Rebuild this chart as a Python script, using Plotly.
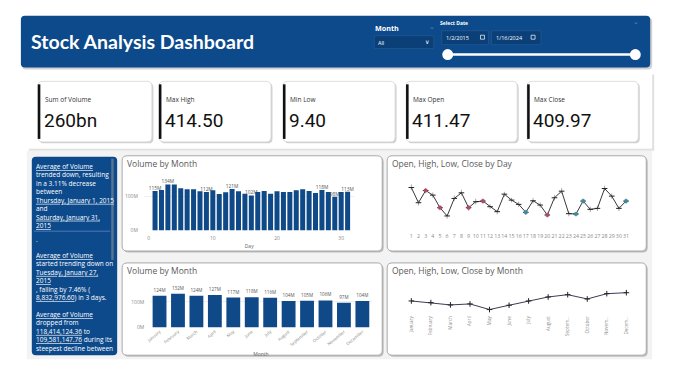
import plotly.graph_objects as go

# ---------------- data ----------------
days = list(range(1, 32))
day_volume_m = [115, 118, 134, 134, 123, 120, 120, 114, 112, 117, 106, 111, 121, 114, 107, 102,
                112, 115, 107, 114, 112, 112, 117, 120, 115, 109, 118, 112, 98, 112, 113]
labeled_days = [1, 3, 9, 13, 16, 27, 29, 31]

months = ["January", "February", "March", "April", "May", "June", "July", "August",
          "September", "October", "November", "December"]
month_tick_short = ["January", "February", "March", "April", "May", "June", "July", "August",
                    "Septem...", "October", "Novem...", "Decem..."]
month_volume_m = [124, 132, 124, 127, 117, 118, 116, 104, 105, 106, 97, 104]

day_close = [154.3, 149.7, 153.4, 152.0, 148.2, 145.7, 151.0, 152.7, 148.2, 150.0, 150.2, 148.5,
             147.0, 152.3, 150.5, 149.2, 146.8, 150.3, 149.0, 146.0, 151.2, 153.2, 146.4, 146.3,
             150.2, 147.7, 148.0, 154.0, 151.7, 148.0, 150.2]
day_high = [155.2, 150.4, 154.2, 152.8, 148.9, 146.3, 151.9, 153.6, 149.0, 150.9, 151.0, 149.2,
            147.6, 153.0, 151.2, 150.0, 147.6, 151.1, 149.8, 146.7, 152.0, 154.1, 147.2, 147.0,
            151.0, 148.5, 148.8, 154.8, 152.5, 148.7, 151.0]
day_low = [153.5, 148.9, 152.6, 151.2, 147.4, 144.9, 150.3, 151.9, 147.3, 149.2, 149.4, 147.8,
           146.2, 151.5, 149.8, 148.4, 146.0, 149.5, 148.2, 145.2, 150.4, 152.4, 145.6, 145.5,
           149.4, 146.9, 147.2, 153.2, 150.9, 147.2, 149.4]
red_days = [3, 5, 9, 11, 20]
teal_days = [17, 24, 25, 31]

month_close = [150.0, 149.0, 147.6, 148.2, 144.8, 147.4, 150.0, 152.4, 153.8, 151.2, 154.4, 155.0]

kpi_labels = ["Sum of Volume", "Max High", "Min Low", "Max Open", "Max Close"]
kpi_values = ["260bn", "414.50", "9.40", "411.47", "409.97"]

insight_blocks = [
    ["<u>Average of Volume</u>", "trended down, resulting", "in a 3.11% decrease", "between",
     "<u>Thursday, January 1, 2015</u>", "and", "<u>Saturday, January 31,</u>", "<u>2015</u>"],
    ["."],
    ["<u>Average of Volume</u>", "started trending down on", "<u>Tuesday, January 27,</u>",
     "<u>2015</u>", ", falling by 7.46% (", "<u>8,832,976.60</u>) in 3 days."],
    ["<u>Average of Volume</u>", "dropped from", "<u>118,414,124.36</u> to",
     "<u>109,581,147.76</u> during its", "steepest decline between"],
]

# ---------------- helpers ----------------
W, H = 680, 383
NAVY = "#0d4a8b"
BAR = "#0f4987"
TITLE_GRAY = "#595959"
TICK_GRAY = "#8a8a8a"
FONT = "Open Sans"


def px(x):
    return x / W


def py(y):
    return 1 - y / H


shapes = []
annotations = []


def rrect(x0, y0, x1, y1, r, fill, line=None, lw=0, layer="below"):
    rx, ry = r / W, r / H
    X0, X1 = px(x0), px(x1)
    YT, YB = py(y0), py(y1)
    path = (f"M {X0+rx},{YT} L {X1-rx},{YT} Q {X1},{YT} {X1},{YT-ry} "
            f"L {X1},{YB+ry} Q {X1},{YB} {X1-rx},{YB} L {X0+rx},{YB} "
            f"Q {X0},{YB} {X0},{YB+ry} L {X0},{YT-ry} Q {X0},{YT} {X0+rx},{YT} Z")
    shapes.append(dict(type="path", xref="paper", yref="paper", path=path,
                       fillcolor=fill, line=dict(color=line or "rgba(0,0,0,0)", width=lw),
                       layer=layer))


def rect(x0, y0, x1, y1, fill, line=None, lw=0, layer="below"):
    shapes.append(dict(type="rect", xref="paper", yref="paper", x0=px(x0), x1=px(x1),
                       y0=py(y1), y1=py(y0), fillcolor=fill,
                       line=dict(color=line or "rgba(0,0,0,0)", width=lw), layer=layer))


def seg(x0, y0, x1, y1, color, w, layer="above"):
    shapes.append(dict(type="line", xref="paper", yref="paper", x0=px(x0), x1=px(x1),
                       y0=py(y0), y1=py(y1), line=dict(color=color, width=w), layer=layer))


def circ(cx, cy, r, fill):
    shapes.append(dict(type="circle", xref="paper", yref="paper", x0=px(cx - r), x1=px(cx + r),
                       y0=py(cy + r), y1=py(cy - r), fillcolor=fill,
                       line=dict(color=fill, width=0), layer="above"))


def txt(x, y, s, size, color, xanchor="left", yanchor="middle", family=FONT, align="left"):
    annotations.append(dict(x=px(x), y=py(y), xref="paper", yref="paper", text=s,
                            showarrow=False, xanchor=xanchor, yanchor=yanchor, align=align,
                            borderpad=0, font=dict(size=size, color=color, family=family)))


# ---------------- background pieces ----------------
# header
rrect(17, 18, 652, 70, 4, "rgba(0,0,0,0.18)")
rrect(16, 16, 650, 68, 4, NAVY)
txt(25, 42, "<b>Stock Analysis Dashboard</b>", 19.5, "white", family="Lato")
txt(372, 28, "<b>Month</b>", 7.2, "white")
txt(430, 27, "⌄", 7, "rgba(255,255,255,0.35)", xanchor="center")
rect(372, 36, 432, 49, "#0a3f78", line="#2c5e97", lw=0.6)
txt(375, 43, "All", 5.5, "white")
txt(425, 42, "∨", 6, "white", xanchor="center")
txt(437, 23, "<b>Select Date</b>", 5, "white")
txt(636, 22, "⌄", 7, "rgba(255,255,255,0.35)", xanchor="center")
rect(440, 31, 487, 45, "#0a3f78", line="#2c5e97", lw=0.6)
rect(490, 31, 540, 45, "#0a3f78", line="#2c5e97", lw=0.6)
txt(443, 38, "1/2/2015", 5.5, "white")
txt(494, 38, "1/16/2024", 5.5, "white")
rect(479, 35.5, 483, 39.5, "rgba(0,0,0,0)", line="white", lw=0.7, layer="above")
rect(530, 35.5, 534, 39.5, "rgba(0,0,0,0)", line="white", lw=0.7, layer="above")
seg(446, 55, 635, 55, "white", 2.5)
circ(446, 55, 5.5, "white")
circ(635, 55, 5.5, "white")

# KPI strip
rect(24, 75, 654, 152, "rgba(0,0,0,0.12)")
rect(22, 73, 652, 150, "white")
kpi_x = [(33, 148), (155, 268), (280, 393), (404, 516), (526, 638)]
for (x0, x1), lab, val in zip(kpi_x, kpi_labels, kpi_values):
    rrect(x0 + 1.5, 83.5, x1 + 1.5, 144.5, 5, "rgba(0,0,0,0.18)")
    rrect(x0, 82, x1, 143, 5, "white", line="#d6d6d6", lw=0.8)
    rect(x0, 85, x0 + 2.6, 140, "#111111")
    txt(x0 + 6, 100, lab, 6.5, "#333333")
    txt(x0 + 5, 121, val, 19, "#111111", family="Roboto")

# charts area backdrop
rect(22, 152, 652, 362, "#f3f3f3")

# insights panel
rrect(27, 158, 113, 358, 4, NAVY)
rect(107, 160, 109.5, 262, "rgba(150,150,150,0.55)")
seg(29, 233, 106, 233, "#5b86c0", 0.8)
block_tops = [162.5, 236, 251.5, 311.5]
for top, lines in zip(block_tops, insight_blocks):
    txt(30, top, "<br>".join(lines), 6.5, "white", yanchor="top")

# chart panels
panels = [(118, 157, 380, 253), (385, 157, 646, 253), (118, 265, 380, 358), (385, 265, 646, 358)]
titles = ["Volume by Month", "Open, High, Low, Close by Day", "Volume by Month",
          "Open, High, Low, Close by Month"]
for (x0, y0, x1, y1), t in zip(panels, titles):
    rrect(x0 + 1.5, y0 + 1.5, x1 + 1.5, y1 + 1.5, 5, "rgba(0,0,0,0.22)")
    rrect(x0, y0, x1, y1, 5, "white", line="#a9a9a9", lw=1)
    txt(x0 + 4, y0 + 8, t, 8.5, TITLE_GRAY)

# ---------------- traces ----------------
fig = go.Figure()

day_text = [f"{v}M" if d in labeled_days else "" for d, v in zip(days, day_volume_m)]
fig.add_trace(go.Bar(x=days, y=day_volume_m, marker=dict(color=BAR, line=dict(width=0)),
                     text=day_text, textposition="outside", constraintext="none",
                     textfont=dict(size=4.8, color="#555"), cliponaxis=False,
                     width=0.78, xaxis="x", yaxis="y", hoverinfo="skip"))

fig.add_trace(go.Scatter(x=days, y=day_close, mode="lines+markers",
                         line=dict(color="#3a3a3a", width=1),
                         marker=dict(symbol="line-ew", size=4, line=dict(color="#222", width=1)),
                         error_y=dict(type="data", symmetric=False,
                                      array=[h - c for h, c in zip(day_high, day_close)],
                                      arrayminus=[c - l for c, l in zip(day_close, day_low)],
                                      color="#9a9a9a", thickness=0.9, width=0),
                         xaxis="x2", yaxis="y2", hoverinfo="skip"))
fig.add_trace(go.Scatter(x=red_days, y=[day_close[d - 1] for d in red_days], mode="markers",
                         marker=dict(color="#b04a63", size=4.2), xaxis="x2", yaxis="y2",
                         hoverinfo="skip"))
fig.add_trace(go.Scatter(x=teal_days, y=[day_close[d - 1] for d in teal_days], mode="markers",
                         marker=dict(color="#3d8c9c", size=4.2), xaxis="x2", yaxis="y2",
                         hoverinfo="skip"))

fig.add_trace(go.Bar(x=months, y=month_volume_m, marker=dict(color=BAR, line=dict(width=0)),
                     text=[f"{v}M" for v in month_volume_m], textposition="outside",
                     constraintext="none", textfont=dict(size=4.6, color="#555"),
                     cliponaxis=False, width=0.75, xaxis="x3", yaxis="y3", hoverinfo="skip"))

fig.add_trace(go.Scatter(x=months, y=month_close, mode="lines+markers",
                         line=dict(color="#3d3d55", width=1),
                         marker=dict(symbol="cross-thin", size=4, line=dict(color="#222", width=1)),
                         xaxis="x4", yaxis="y4", hoverinfo="skip", cliponaxis=False))

tickfont = dict(size=5, color=TICK_GRAY, family=FONT)

fig.update_layout(
    width=W, height=H, margin=dict(l=0, r=0, t=0, b=0),
    paper_bgcolor="white", plot_bgcolor="rgba(0,0,0,0)",
    showlegend=False, bargap=0.2,
    shapes=shapes, annotations=annotations,
    xaxis=dict(domain=[px(140), px(352)], range=[-0.727, 32.06], tickvals=[0, 10, 20, 30],
               anchor="y", showgrid=False, zeroline=False, showline=False, tickfont=tickfont,
               title=dict(text="Day", font=dict(size=5, color="#666"), standoff=4),
               ticks="outside", ticklen=3, tickcolor="rgba(0,0,0,0)"),
    yaxis=dict(domain=[py(232.3), py(175)], range=[0, 165.6], tickvals=[0, 100], anchor="x",
               ticktext=["0M", "100M"], showgrid=True, gridcolor="#efefef", gridwidth=0.6,
               zeroline=False, tickfont=tickfont, ticks="outside", ticklen=4,
               tickcolor="rgba(0,0,0,0)"),
    xaxis2=dict(domain=[px(404.3), px(630.7)], range=[0.3, 31.7], tickvals=days, anchor="y2",
                showgrid=False, zeroline=False, tickfont=dict(size=5.3, color=TICK_GRAY, family=FONT),
                ticks="outside", ticklen=2, tickcolor="rgba(0,0,0,0)", tickangle=0),
    yaxis2=dict(domain=[py(230), py(180)], range=[142, 157], visible=False, anchor="x2"),
    xaxis3=dict(domain=[px(146.4), px(369.3)], range=[-0.5, 11.5], type="category", anchor="y3",
                showgrid=False, zeroline=False, tickangle=-40,
                tickfont=dict(size=4.3, color=TICK_GRAY, family=FONT),
                title=dict(text="Month", font=dict(size=5, color="#666"), standoff=6)),
    yaxis3=dict(domain=[py(330), py(284)], range=[0, 179], tickvals=[0, 100], anchor="x3",
                ticktext=["0M", "100M"], showgrid=True, gridcolor="#efefef", gridwidth=0.6,
                zeroline=False, tickfont=tickfont, ticks="outside", ticklen=4,
                tickcolor="rgba(0,0,0,0)"),
    xaxis4=dict(domain=[px(399.5), px(635.8)], range=[-0.5, 11.5], type="category", anchor="y4",
                tickvals=months, ticktext=month_tick_short,
                showgrid=False, zeroline=False, tickangle=-90,
                tickfont=dict(size=4.5, color=TICK_GRAY, family=FONT),
                ticks="outside", ticklen=2, tickcolor="rgba(0,0,0,0)"),
    yaxis4=dict(domain=[py(314), py(288)], range=[143.6, 159.2], visible=False, anchor="x4"),
)

fig.write_html("out.html")
